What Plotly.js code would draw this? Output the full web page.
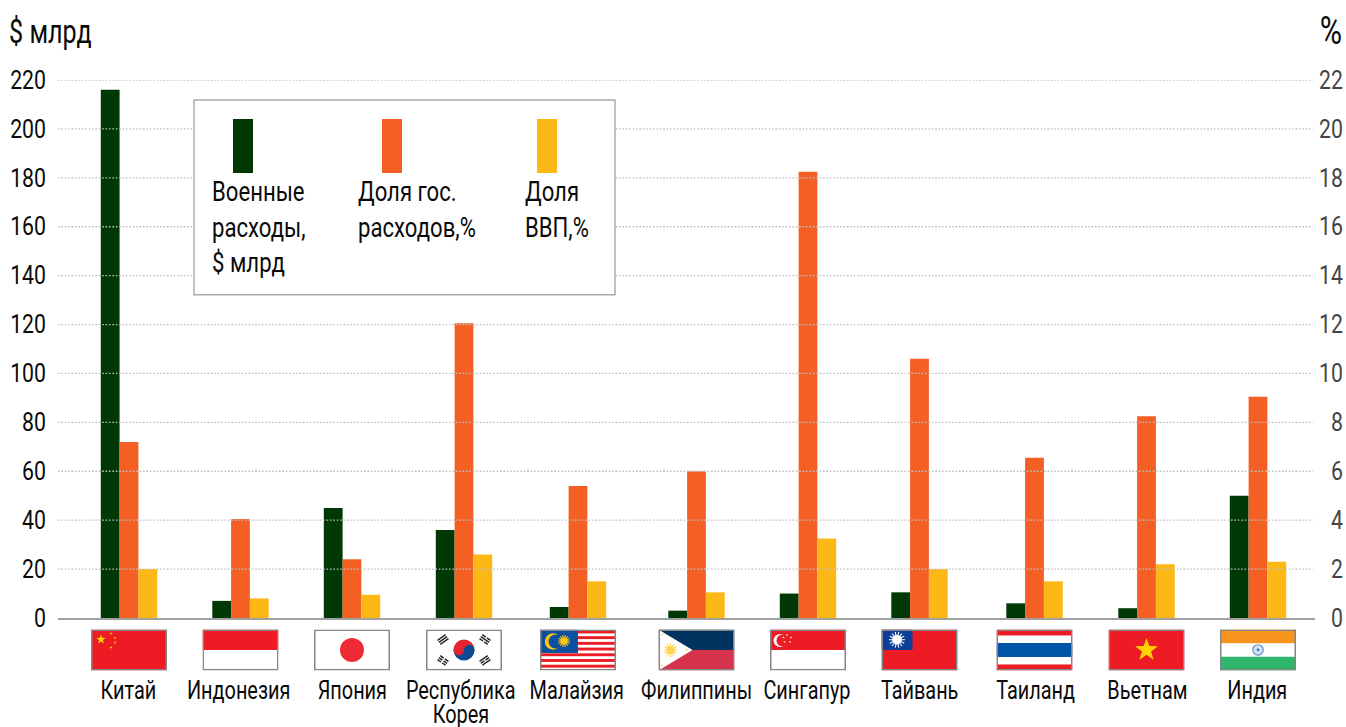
<!DOCTYPE html>
<html>
<head>
<meta charset="utf-8">
<script src="https://cdn.plot.ly/plotly-3.0.1.min.js"></script>
<style>html,body{margin:0;padding:0;background:#fff;overflow:hidden}#chart{width:1346px;height:727px}</style>
</head>
<body>
<div id="chart"></div>
<script>
// ---- data ----
const countries = ['Китай','Индонезия','Япония','Республика Корея','Малайзия','Филиппины','Сингапур','Тайвань','Таиланд','Вьетнам','Индия'];
const countryLines = [['Китай'],['Индонезия'],['Япония'],['Республика','Корея'],['Малайзия'],['Филиппины'],['Сингапур'],['Тайвань'],['Таиланд'],['Вьетнам'],['Индия']];
const militaryBn = [216,7,45,36,4.5,3,10,10.5,6,4,50];
const budgetShare = [7.2,4.05,2.4,12.05,5.4,6.0,18.25,10.6,6.55,8.25,9.05];
const gdpShare = [2.0,0.8,0.95,2.6,1.5,1.05,3.25,2.0,1.5,2.2,2.3];
const leftTicks = [0,20,40,60,80,100,120,140,160,180,200,220];
const rightTicks = [0,2,4,6,8,10,12,14,16,18,20,22];
const legendLabels = [['Военные','расходы,','$ млрд'],['Доля гос.','расходов,%'],['Доля','ВВП,%']];

// ---- layout constants (pixels) ----
const W=1346,H=727,L=58,R=1346,T=80,B=618.5,AXR=1315;
const first=129, unit=112.9, barW=18.8;
const groupCentre=[129,240.5,352,464,578,696.5,808,919.5,1034.5,1146.5,1258];
const labelShift=[-1,-2,0,-3,-1,-0.5,-1,0.5,0.5,0.5,-1];
const nudge=groupCentre.map((c,i)=>c-(first+unit*i));
const colors=['#003806','#f46024','#fcb817'];
const font='Roboto,"Liberation Sans",sans-serif';
const px=x=>(x-L)/(R-L), py=y=>1-(y-T)/(B-T);

function bar(name,vals,axis,k,color){
  return {type:'bar',name,x:countries,y:vals,yaxis:axis,marker:{color,line:{width:0}},
    width:countries.map(()=>barW/unit),
    offset:nudge.map(n=>(n+(k-1.5)*barW)/unit),
    hoverinfo:'x+y',showlegend:false};
}
const traces=[
  bar('Военные расходы, $ млрд',militaryBn,'y',0,colors[0]),
  bar('Доля гос. расходов, %',budgetShare,'y2',1,colors[1]),
  bar('Доля ВВП, %',gdpShare,'y2',2,colors[2])
];

// ---- flags ----
function star(cx,cy,r,fill){
  let p=[];
  for(let i=0;i<10;i++){const a=-Math.PI/2+i*Math.PI/5,q=i%2?r*0.4:r;p.push((cx+q*Math.cos(a)).toFixed(2)+','+(cy+q*Math.sin(a)).toFixed(2));}
  return `<polygon points="${p.join(' ')}" fill="${fill}"/>`;
}
function sun(cx,cy,r,fill,n){
  let s='';
  for(let i=0;i<n;i++){const a=i*2*Math.PI/n;s+=`<line x1="${cx}" y1="${cy}" x2="${(cx+r*Math.cos(a)).toFixed(2)}" y2="${(cy+r*Math.sin(a)).toFixed(2)}" stroke="${fill}" stroke-width="1.1"/>`;}
  return s+`<circle cx="${cx}" cy="${cy}" r="${(r*0.6).toFixed(2)}" fill="${fill}"/>`;
}
const rect=(x,y,w,h,f)=>`<rect x="${x}" y="${y}" width="${w}" height="${h}" fill="${f}"/>`;
const RED='#ed1c24';
function trig(cx,cy,rot,breaks){
  let s=`<g transform="rotate(${rot} ${cx} ${cy})">`;
  [-2.4,0,2.4].forEach((o,i)=>{
    if(breaks[i]){s+=rect(cx-5,cy+o-0.7,4.3,1.4,'#222')+rect(cx+0.7,cy+o-0.7,4.3,1.4,'#222');}
    else s+=rect(cx-5,cy+o-0.7,10,1.4,'#222');
  });
  return s+'</g>';
}
function malaysia(){
  let s=rect(0,0,76,41,'#fff');
  for(let i=0;i<7;i++) s+=rect(0,1+i*5.71,76,2.9,RED);
  s+=rect(0,0,38,23.5,'#0d50a0');
  s+=`<circle cx="13" cy="12" r="8.2" fill="#fcc516"/><circle cx="15.6" cy="12" r="7" fill="#0d50a0"/>`;
  s+=sun(24,11.5,6,'#fcc516',14);
  return s;
}
const flagBodies=[
  rect(0,0,76,41,RED)+star(10,10,5,'#ffd200')+star(20,4,1.5,'#ffd200')+star(24,8.5,1.5,'#ffd200')+star(24,13,1.5,'#ffd200')+star(20,18,1.5,'#ffd200'),
  rect(0,0,76,41,'#fff')+rect(0,0,76,20.5,RED),
  rect(0,0,76,41,'#fff')+`<circle cx="38" cy="20.5" r="12" fill="#ee2a35"/>`,
  rect(0,0,76,41,'#fff')+`<path d="M27.5 20.5a10.5 10.5 0 0 1 21 0z" fill="#e2252f"/><path d="M27.5 20.5a10.5 10.5 0 0 0 21 0z" fill="#0d4a94"/><circle cx="32.75" cy="20.5" r="5.25" fill="#e2252f"/><circle cx="43.25" cy="20.5" r="5.25" fill="#0d4a94"/>`+trig(17,10,-35,[0,0,0])+trig(59,10,35,[1,0,1])+trig(17,31,35,[1,1,1])+trig(59,31,-35,[0,1,0]),
  malaysia(),
  rect(0,0,76,20.5,'#00335f')+rect(0,20.5,76,20.5,'#d6334c')+`<polygon points="0,0 34,20.5 0,41" fill="#fff"/>`+sun(12,20.5,7,'#fdd35a',12)+star(3.5,5,1.5,'#fdd35a')+star(3.5,36,1.5,'#fdd35a')+star(28,20.5,1.5,'#fdd35a'),
  rect(0,0,76,41,'#fff')+rect(0,0,76,20.5,RED)+`<circle cx="10" cy="11" r="6.5" fill="#fff"/><circle cx="12.5" cy="11" r="6" fill="${RED}"/>`+[[16,4.5],[20,7],[19,11.5],[13.5,11.5],[12.5,7]].map(p=>star(p[0]+1,p[1]+1,1.3,'#fff')).join(''),
  rect(0,0,76,41,RED)+rect(0,0,31,20.5,'#0d3f9a')+sun(15.5,10.25,8,'#fff',14),
  rect(0,0,76,41,RED)+rect(0,6,76,29,'#fff')+rect(0,13.5,76,14,'#0055a6'),
  rect(0,0,76,41,RED)+star(38,20.5,12,'#ffd200'),
  rect(0,0,76,41,'#fff')+rect(0,0,76,13.7,'#f7941d')+rect(0,27.3,76,13.7,'#2eb66a')+`<circle cx="38" cy="20.5" r="5.2" fill="#cfe2f3" stroke="#5b8fc7" stroke-width="1.2"/><circle cx="38" cy="20.5" r="1.4" fill="#3d75b5"/>`
];
function flagSrc(body){
  const svg=`<svg xmlns="http://www.w3.org/2000/svg" width="304" height="164" viewBox="0 0 76 41" preserveAspectRatio="none">${body}<rect x="0.75" y="0.75" width="74.5" height="39.5" fill="none" stroke="#858585" stroke-width="1.5"/></svg>`;
  return 'data:image/svg+xml;charset=utf-8,'+encodeURIComponent(svg);
}
const images=flagBodies.map((b,i)=>({source:flagSrc(b),xref:'x',yref:'paper',x:(groupCentre[i]-first)/unit,y:py(630),
  sizex:76/unit,sizey:41/(B-T),xanchor:'center',yanchor:'top',sizing:'stretch',layer:'above'}));

// ---- shapes: gridlines over the bars, then legend box ----
const shapes=leftTicks.filter(v=>v>0).map(v=>({type:'line',xref:'x domain',yref:'y',x0:0,x1:0.9985,y0:v,y1:v,layer:'above',
  line:{color:'rgb(190,190,190)',width:1.3,dash:'1.6px 1.8px'}}));
shapes.push({type:'rect',xref:'paper',yref:'paper',x0:px(194),x1:px(615),y0:py(295),y1:py(100),layer:'above',fillcolor:'#fff',line:{color:'#a9a9a9',width:1.4}});
const swatchX=[233,382,537];
swatchX.forEach((x,i)=>shapes.push({type:'rect',xref:'paper',yref:'paper',x0:px(x),x1:px(x+20),y0:py(173),y1:py(119),layer:'above',fillcolor:colors[i],line:{width:0}}));

// ---- text ----
const annotations=[];
const narrow=[], leftAnchored=[];   // per annotation, in order
const txt=(s,x,y,size,anchor,f,weight)=>{narrow.push(f);leftAnchored.push(anchor==='left');annotations.push({text:s,xref:'paper',yref:'paper',x:px(x),y:py(y),xanchor:anchor,yanchor:'middle',showarrow:false,borderpad:0,borderwidth:0,
  font:{family:font,size,color:'#0a0a0a',weight:weight||400}});};
txt('$ млрд',9,31,34,'left',0.74,400);
txt('%',1330.5,31,38,'center',0.8);
const legendTextX=[212,358,525];
legendLabels.forEach((lines,i)=>lines.forEach((s,j)=>txt(s,legendTextX[i],192+j*35.7,27,'left',0.82)));
countryLines.forEach((lines,i)=>lines.forEach((s,j)=>{narrow.push(0.765);leftAnchored.push(false);annotations.push({text:s,xref:'x',yref:'paper',x:i,y:py(690.5+j*24.5),xshift:nudge[i]+labelShift[i],
  xanchor:'center',yanchor:'middle',showarrow:false,borderpad:0,font:{family:font,size:26,color:'#0a0a0a'}});}));

const layout={
  width:W,height:H,margin:{l:L,r:W-R,t:T,b:H-B,pad:0},paper_bgcolor:'#fff',plot_bgcolor:'#fff',
  barmode:'overlay',showlegend:false,
  font:{family:font,size:25,color:'#0a0a0a'},
  xaxis:{type:'category',categoryorder:'array',categoryarray:countries,domain:[0,(AXR-L)/(R-L)],
    range:[-(first-L)/unit,10+(AXR-(first+10*unit))/unit],showticklabels:false,ticks:'',showgrid:false,zeroline:false,
    showline:true,linecolor:'#a0a0a0',linewidth:1.6,fixedrange:true},
  yaxis:{range:[0,220],tickvals:leftTicks,ticktext:leftTicks.map(String),ticks:'',ticklabelstandoff:11,showgrid:false,zeroline:false,showline:false,fixedrange:true,ticklabeloverflow:'allow'},
  yaxis2:{range:[0,22],overlaying:'y',side:'right',anchor:'free',position:1,tickvals:rightTicks,ticktext:rightTicks.map(String),ticks:'',ticklabelposition:'inside',ticklabeloverflow:'allow',
    showgrid:false,zeroline:false,showline:false,fixedrange:true},
  shapes,annotations,images
};
// the reference type is a narrow face; none is installed, so real text is condensed horizontally around its anchor
function condense(el,f,pivot){
  const t=el.getAttribute('transform')||'';
  el.setAttribute('transform',`${t} translate(${pivot} 0) scale(${f} 1) translate(${-pivot} 0)`);
}
Plotly.newPlot('chart',traces,layout,{displayModeBar:false,staticPlot:true}).then(gd=>{
  gd.querySelectorAll('.annotation').forEach(g=>{
    const i=+g.getAttribute('data-index'),el=g.querySelector('.annotation-text'),x=parseFloat(el.getAttribute('x'));
    condense(el,narrow[i],leftAnchored[i]?x-el.getComputedTextLength()/2:x);
    const bg=g.querySelector('rect.bg');
    if(bg) bg.setAttribute('width',0);
  });
  gd.querySelectorAll('.ytick text,.y2tick text').forEach(el=>condense(el,0.85,parseFloat(el.getAttribute('x'))));
});
</script>
</body>
</html>
